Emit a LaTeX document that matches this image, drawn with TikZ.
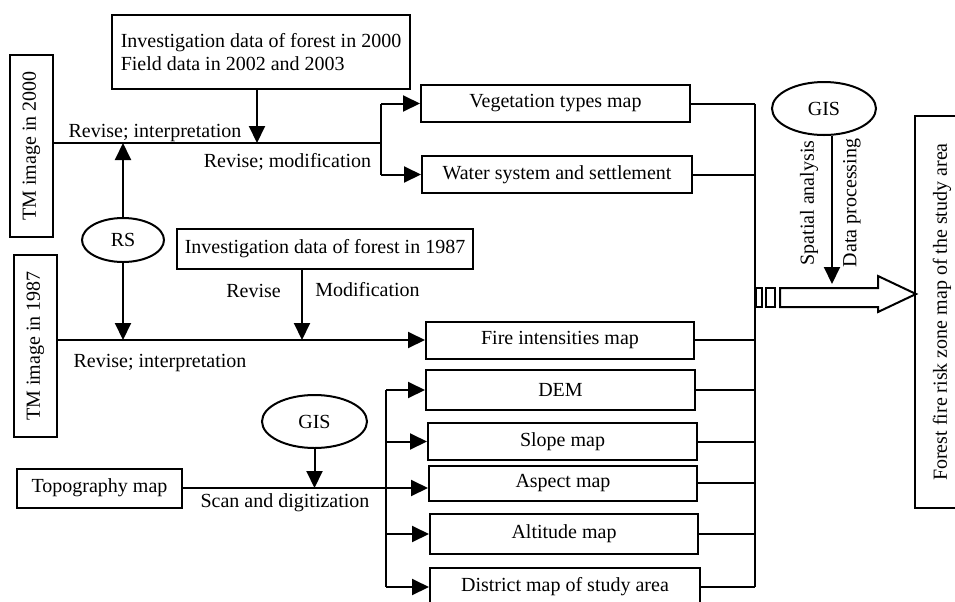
\documentclass[tikz,border=0pt]{standalone}
\usepackage{fontspec}
\setmainfont{Liberation Serif}
\usetikzlibrary{arrows.meta,shapes.geometric,calc}
\begin{document}
\begin{tikzpicture}[x=0.5pt,y=-0.5pt,
  font=\fontsize{10}{11.5}\selectfont,
  box/.style={draw, line width=1pt, inner sep=0pt, align=center},
  oval/.style={draw, ellipse, line width=1pt, inner sep=0pt},
  ln/.style={line width=1pt},
  arr/.style={line width=1pt, -{Triangle[length=8.5pt,width=8pt]}},
  lbl/.style={inner sep=0pt, anchor=base}]
\useasboundingbox (0,0) rectangle (955,601);

% boxes
\node[box, align=left, minimum width=149pt, minimum height=37pt] (top) at (261,52)
  {Investigation data of forest in 2000\\Field data in 2002 and 2003};
\node[box, rotate=90, minimum width=91pt, minimum height=21.5pt] (tm2000) at (31.5,146) {TM image in 2000};
\node[box, rotate=90, minimum width=91pt, minimum height=21.5pt] (tm1987) at (35.5,346) {TM image in 1987};
\node[oval, minimum width=41pt, minimum height=22pt] (rs) at (123,240) {RS};
\node[box, minimum width=148pt, minimum height=20pt] (inv87) at (325,249) {Investigation data of forest in 1987};
\node[box, minimum width=134.5pt, minimum height=18.5pt] (veg) at (555.5,103.5) {Vegetation types map};
\node[box, minimum width=135pt, minimum height=18.5pt] (water) at (557,174.5) {Water system and settlement};
\node[box, minimum width=134pt, minimum height=18.5pt] (fire) at (560,340) {Fire intensities map};
\node[box, minimum width=134.5pt, minimum height=20pt] (dem) at (560.5,390) {DEM};
\node[box, minimum width=134.5pt, minimum height=18.5pt] (slope) at (562.5,441.5) {Slope map};
\node[box, minimum width=134pt, minimum height=17.5pt] (aspect) at (563,483) {Aspect map};
\node[box, minimum width=134pt, minimum height=20pt] (altitude) at (564,534) {Altitude map};
\node[box, minimum width=135pt, minimum height=19pt] (district) at (565,587) {District map of study area};
\node[box, minimum width=82.5pt, minimum height=19.5pt] (topo) at (99.5,488) {Topography map};
\node[oval, minimum width=52pt, minimum height=26.5pt] (gisA) at (824,108.5) {GIS};
\node[oval, minimum width=52.5pt, minimum height=26.5pt] (gisB) at (314.5,421.5) {GIS};
\node[box, rotate=90, minimum width=196pt, minimum height=27pt] (final) at (942,312) {Forest fire risk zone map of the study area};

% 2000 branch (rotated node: its south anchor is on the right side)
\coordinate (j2000) at (381,143);
\draw[ln] (tm2000.south |- j2000) -- (j2000);
\draw[ln] (veg.west -| j2000) -- (water.west -| j2000);
\draw[arr] (veg.west -| j2000) -- (veg.west);
\draw[arr] (water.west -| j2000) -- (water.west);
\draw[arr] ([xshift=-2pt]top.south) -- ([xshift=-2pt]top.south |- j2000);
\draw[arr] (rs.north) -- (rs.north |- j2000);

% 1987 branch
\coordinate (m1987) at (302,340);
\draw[arr] (tm1987.south |- fire.west) -- (fire.west);
\draw[arr] (rs.south) -- (rs.south |- fire.west);
\draw[arr] (inv87.south -| m1987) -- (m1987);

% topography branch
\coordinate (xb) at (386,0);
\draw[arr] (topo.east) -- (topo.east -| aspect.west);
\draw[arr] (gisB.south) -- (gisB.south |- topo.east);
\draw[ln] (dem.west -| xb) -- (district.west -| xb);
\draw[arr] (dem.west -| xb) -- (dem.west);
\draw[arr] (slope.west -| xb) -- (slope.west);
\draw[arr] (altitude.west -| xb) -- (altitude.west);
\draw[arr] (district.west -| xb) -- (district.west);

% collector on the right
\coordinate (xr) at (755,0);
\foreach \n in {veg,water,fire,dem,slope,aspect,altitude,district}
  \draw[ln] (\n.east) -- (\n.east -| xr);
\draw[ln] (veg.east -| xr) -- (district.east -| xr);

% small rectangles and hollow arrow
\draw[ln] (756,288) rectangle (762,307);
\draw[ln] (766,288) rectangle (775,307);
\coordinate (shaft) at (780,288);
\coordinate (tip) at (916,294);
\draw[ln] (shaft) -- (878,288) -- (878,276) -- (tip) -- (878,312) -- (878,307) -- (780,307) -- cycle;
\coordinate (gtip) at (832,284);
\draw[arr] (gisA.south -| gtip) -- (gtip);

% labels
\node[lbl] (l1) at (155,137) {Revise; interpretation};
\node[lbl] (l2) at (287.5,167) {Revise; modification};
\node[lbl] (l3) at (253.5,297) {Revise};
\node[lbl] (l4) at (367.5,296) {Modification};
\node[lbl] (l5) at (160,367) {Revise; interpretation};
\node[lbl] (l6) at (285,507) {Scan and digitization};
\node[inner sep=0pt, rotate=90] (l7) at (809,203) {Spatial analysis};
\node[inner sep=0pt, rotate=90] (l8) at (852,203) {Data processing};
\end{tikzpicture}
\end{document}
